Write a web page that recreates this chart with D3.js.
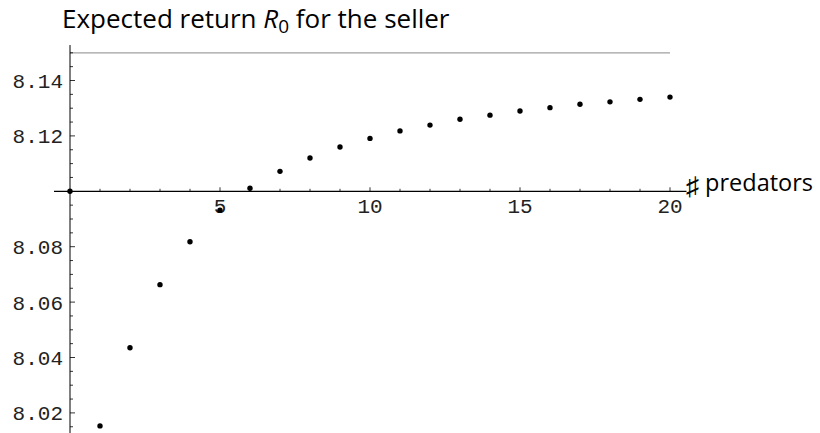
<!DOCTYPE html>
<html>
<head>
<meta charset="utf-8">
<script src="https://cdn.jsdelivr.net/npm/d3@7"></script>
<style>
  body { margin: 0; background: #fff; }
  svg { display: block; }
  .tick-label { font-family: "Liberation Mono", "DejaVu Sans Mono", monospace; font-size: 21px; fill: #222; }
  .title, .xtitle { font-family: "Open Sans", Lato, sans-serif; fill: #000; }
</style>
</head>
<body>
<svg id="chart" width="820" height="433"></svg>
<script>
// predators count vs expected return for the seller
const predators = [0, 1, 2, 3, 4, 5, 6, 7, 8, 9, 10, 11, 12, 13, 14, 15, 16, 17, 18, 19, 20];
const expectedReturn = [8.1000, 8.0153, 8.0435, 8.0663, 8.0818, 8.0932, 8.1011, 8.1072, 8.1120, 8.1160,
  8.1191, 8.1218, 8.1239, 8.1260, 8.1275, 8.1290, 8.1302, 8.1314, 8.1323, 8.1332, 8.1340];
const limitValue = 8.15;
const xTickLabels = [5, 10, 15, 20];
const yTickLabels = [8.02, 8.04, 8.06, 8.08, 8.12, 8.14];

const svg = d3.select('#chart');

const xScale = d3.scaleLinear().domain([0, 20]).range([70, 670]);
const yScale = d3.scaleLinear().domain([8.02, 8.15]).range([412.9, 52.8]);
const axisY = yScale(8.10);

// limit line
svg.append('line')
    .attr('x1', xScale(0)).attr('x2', xScale(20))
    .attr('y1', yScale(limitValue)).attr('y2', yScale(limitValue))
    .attr('stroke', '#a0a0a0').attr('stroke-width', 1.2);

// y axis
svg.append('line')
    .attr('x1', xScale(0)).attr('x2', xScale(0))
    .attr('y1', yScale(8.1528)).attr('y2', 433)
    .attr('stroke', '#000').attr('stroke-width', 1);

let yMinor = d3.range(8.015, 8.1526, 0.005).filter(v => Math.abs(v - 8.10) > 1e-6);
svg.append('g').selectAll('line').data(yMinor).join('line')
    .attr('x1', xScale(0))
    .attr('x2', d => xScale(0) + (yTickLabels.some(t => Math.abs(t - d) < 1e-6) ? 5 : 3))
    .attr('y1', d => yScale(d)).attr('y2', d => yScale(d))
    .attr('stroke', '#000').attr('stroke-width', 0.8);

svg.append('g').selectAll('text').data(yTickLabels).join('text')
    .attr('class', 'tick-label')
    .attr('x', 63)
    .attr('y', d => yScale(d))
    .attr('dy', '0.36em')
    .attr('text-anchor', 'end')
    .text(d => d.toFixed(2));

// x axis
svg.append('line')
    .attr('x1', 54).attr('x2', xScale(20.55))
    .attr('y1', axisY).attr('y2', axisY)
    .attr('stroke', '#000').attr('stroke-width', 1.2);

svg.append('g').selectAll('line').data(d3.range(1, 21)).join('line')
    .attr('x1', d => xScale(d)).attr('x2', d => xScale(d))
    .attr('y1', axisY)
    .attr('y2', d => axisY - (d % 5 === 0 ? 4 : 2.5))
    .attr('stroke', '#000').attr('stroke-width', 0.8);

svg.append('g').selectAll('text').data(xTickLabels).join('text')
    .attr('class', 'tick-label')
    .attr('x', d => xScale(d))
    .attr('y', axisY + 22)
    .attr('text-anchor', 'middle')
    .text(d => d);

// points
svg.append('g').selectAll('circle').data(predators).join('circle')
    .attr('cx', d => xScale(d))
    .attr('cy', (d, i) => yScale(expectedReturn[i]))
    .attr('r', 2.7)
    .attr('fill', '#000');

// titles
const title = svg.append('text').attr('class', 'title')
    .attr('x', 62).attr('y', 28).attr('font-size', 26);
title.append('tspan').text('Expected return ');
title.append('tspan').attr('font-style', 'italic').text('R');
title.append('tspan').attr('font-size', 19).attr('dy', 5).text('0');
title.append('tspan').attr('dy', -5).text(' for the seller');

const xt = svg.append('text').attr('class', 'xtitle')
    .attr('x', 686).attr('y', 191).attr('font-size', 23.5);
xt.append('tspan').attr('font-size', 26).attr('dy', 4).text('\u266F');
xt.append('tspan').attr('dy', -4).text(' predators');
</script>
</body>
</html>
